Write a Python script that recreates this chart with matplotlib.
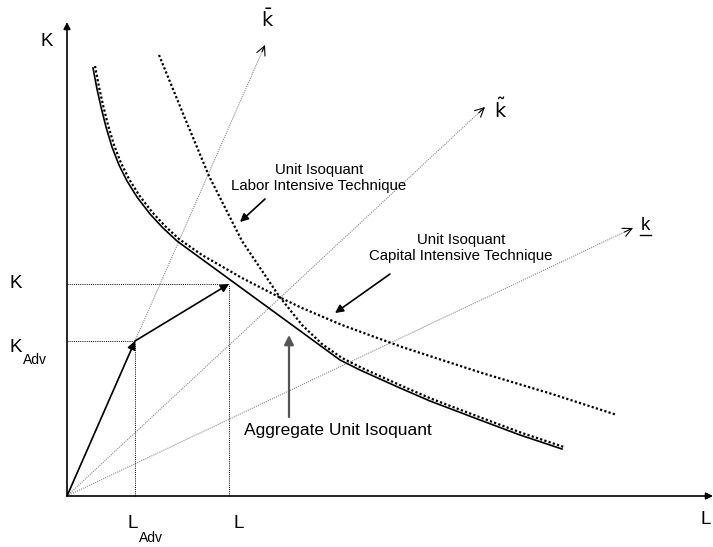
import numpy as np
import matplotlib
matplotlib.use('Agg')
import matplotlib.pyplot as plt
from matplotlib.transforms import offset_copy

plt.rcParams['font.family'] = ['Liberation Sans', 'DejaVu Sans']

# diagram units: 1 unit ~ 1 px of the reference, origin at the axes corner
cap_x = [26, 30, 34, 39, 45, 52, 60, 70, 83, 96, 110, 133, 173, 210, 233, 273, 333, 413, 483, 548]
cap_y = [428, 407, 389, 369, 349, 331, 315, 299, 282, 268, 255, 239, 216, 197, 186, 169, 147, 121, 100, 79]

lab_x = [90, 115, 140, 173, 210, 233, 253, 273, 293, 333, 363, 413, 453, 495]
lab_y = [439, 378, 318, 253, 198, 169, 150, 136, 126, 108, 95, 76, 61, 47]

agg_x = [26, 30, 34, 39, 45, 52, 60, 70, 83, 96, 110, 273, 293, 333, 363, 413, 453, 495]
agg_y = [428, 407, 389, 369, 349, 331, 315, 299, 282, 268, 255, 136, 126, 108, 95, 76, 61, 47]

ray_tips = {'kbar': (198, 451), 'ktilde': (418, 389), 'kunder': (566, 268)}
p_adv = (68, 155)
p_tot = (162, 212)

fig = plt.figure(figsize=(7.13, 5.47), dpi=100)
ax = fig.add_axes([0, 0, 1, 1])
ax.set_xlim(-67, 646)
ax.set_ylim(-51, 496)
ax.axis('off')

# axes
ax.annotate('', xy=(0, 474), xytext=(0, 0),
            arrowprops=dict(arrowstyle='-|>', color='black', lw=1.2, mutation_scale=10, shrinkA=0, shrinkB=0))
ax.annotate('', xy=(646, 0), xytext=(0, 0),
            arrowprops=dict(arrowstyle='-|>', color='black', lw=1.2, mutation_scale=10, shrinkA=0, shrinkB=0))

# rays
for name, (tx, ty) in ray_tips.items():
    ax.plot([0, tx], [0, ty], color='#888888', lw=0.8, ls=(0, (1, 1)))
    ax.annotate('', xy=(tx, ty), xytext=(tx * 0.985, ty * 0.985),
                arrowprops=dict(arrowstyle='->', color='black', lw=0.8, mutation_scale=16, shrinkA=0, shrinkB=0))

# guide lines
for (gx, gy) in [p_adv, p_tot]:
    ax.plot([0, gx], [gy, gy], color='black', lw=0.7, ls=(0, (1, 1.2)))
    ax.plot([gx, gx], [0, gy], color='black', lw=0.7, ls=(0, (1, 1.2)))

# isoquants
off = offset_copy(ax.transData, fig=fig, x=2, y=2, units='dots')
ax.plot(cap_x, cap_y, color='black', lw=1.6, ls=(0, (1, 1)), transform=off)
ax.plot(lab_x, lab_y, color='black', lw=1.6, ls=(0, (1, 1)), transform=off)
ax.plot(agg_x, agg_y, color='black', lw=1.2)

# expansion arrows
ax.annotate('', xy=p_adv, xytext=(0, 0),
            arrowprops=dict(arrowstyle='-|>', color='black', lw=1.2, mutation_scale=12, shrinkA=0, shrinkB=0))
ax.annotate('', xy=p_tot, xytext=p_adv,
            arrowprops=dict(arrowstyle='-|>', color='black', lw=1.2, mutation_scale=12, shrinkA=0, shrinkB=0))

# labels
ax.text(-20, 454, 'K', fontsize=13.5, ha='center', va='center')
ax.text(639, -24, 'L', fontsize=13.5, ha='center', va='center')
ax.text(-51, 212, 'K', fontsize=13.5, ha='center', va='center')
ax.text(-51, 148, 'K', fontsize=13.5, ha='center', va='center')
ax.text(-32, 136, 'Adv', fontsize=10, ha='center', va='center')
ax.text(66, -28, 'L', fontsize=13.5, ha='center', va='center')
ax.text(84, -42, 'Adv', fontsize=10, ha='center', va='center')
ax.text(172, -28, 'L', fontsize=13.5, ha='center', va='center')

ax.text(201, 476, '$\\bar{\\mathsf{k}}$', fontsize=14, ha='center', va='center')
ax.text(434, 386, '$\\tilde{\\mathsf{k}}$', fontsize=14, ha='center', va='center')
ax.text(578, 270, 'k', fontsize=13.5, ha='center', va='center')
ax.plot([573, 584], [261, 261], color='black', lw=1.0)

ax.text(252, 318, 'Unit Isoquant\nLabor Intensive Technique', fontsize=10.8,
        ha='center', va='center', linespacing=1.2)
ax.annotate('', xy=(173, 274), xytext=(198, 297),
            arrowprops=dict(arrowstyle='-|>', color='black', lw=1.2, mutation_scale=12, shrinkA=0, shrinkB=0))

ax.text(394, 248, 'Unit Isoquant\nCapital Intensive Technique', fontsize=10.8,
        ha='center', va='center', linespacing=1.2)
ax.annotate('', xy=(268, 183), xytext=(323, 222),
            arrowprops=dict(arrowstyle='-|>', color='black', lw=1.2, mutation_scale=12, shrinkA=0, shrinkB=0))

ax.text(271, 66, 'Aggregate Unit Isoquant', fontsize=12.5, ha='center', va='center')
ax.annotate('', xy=(222, 161), xytext=(222, 79),
            arrowprops=dict(arrowstyle='-|>', color='#555555', lw=1.6, mutation_scale=14, shrinkA=0, shrinkB=0))

fig.savefig('out.png', dpi=100)
